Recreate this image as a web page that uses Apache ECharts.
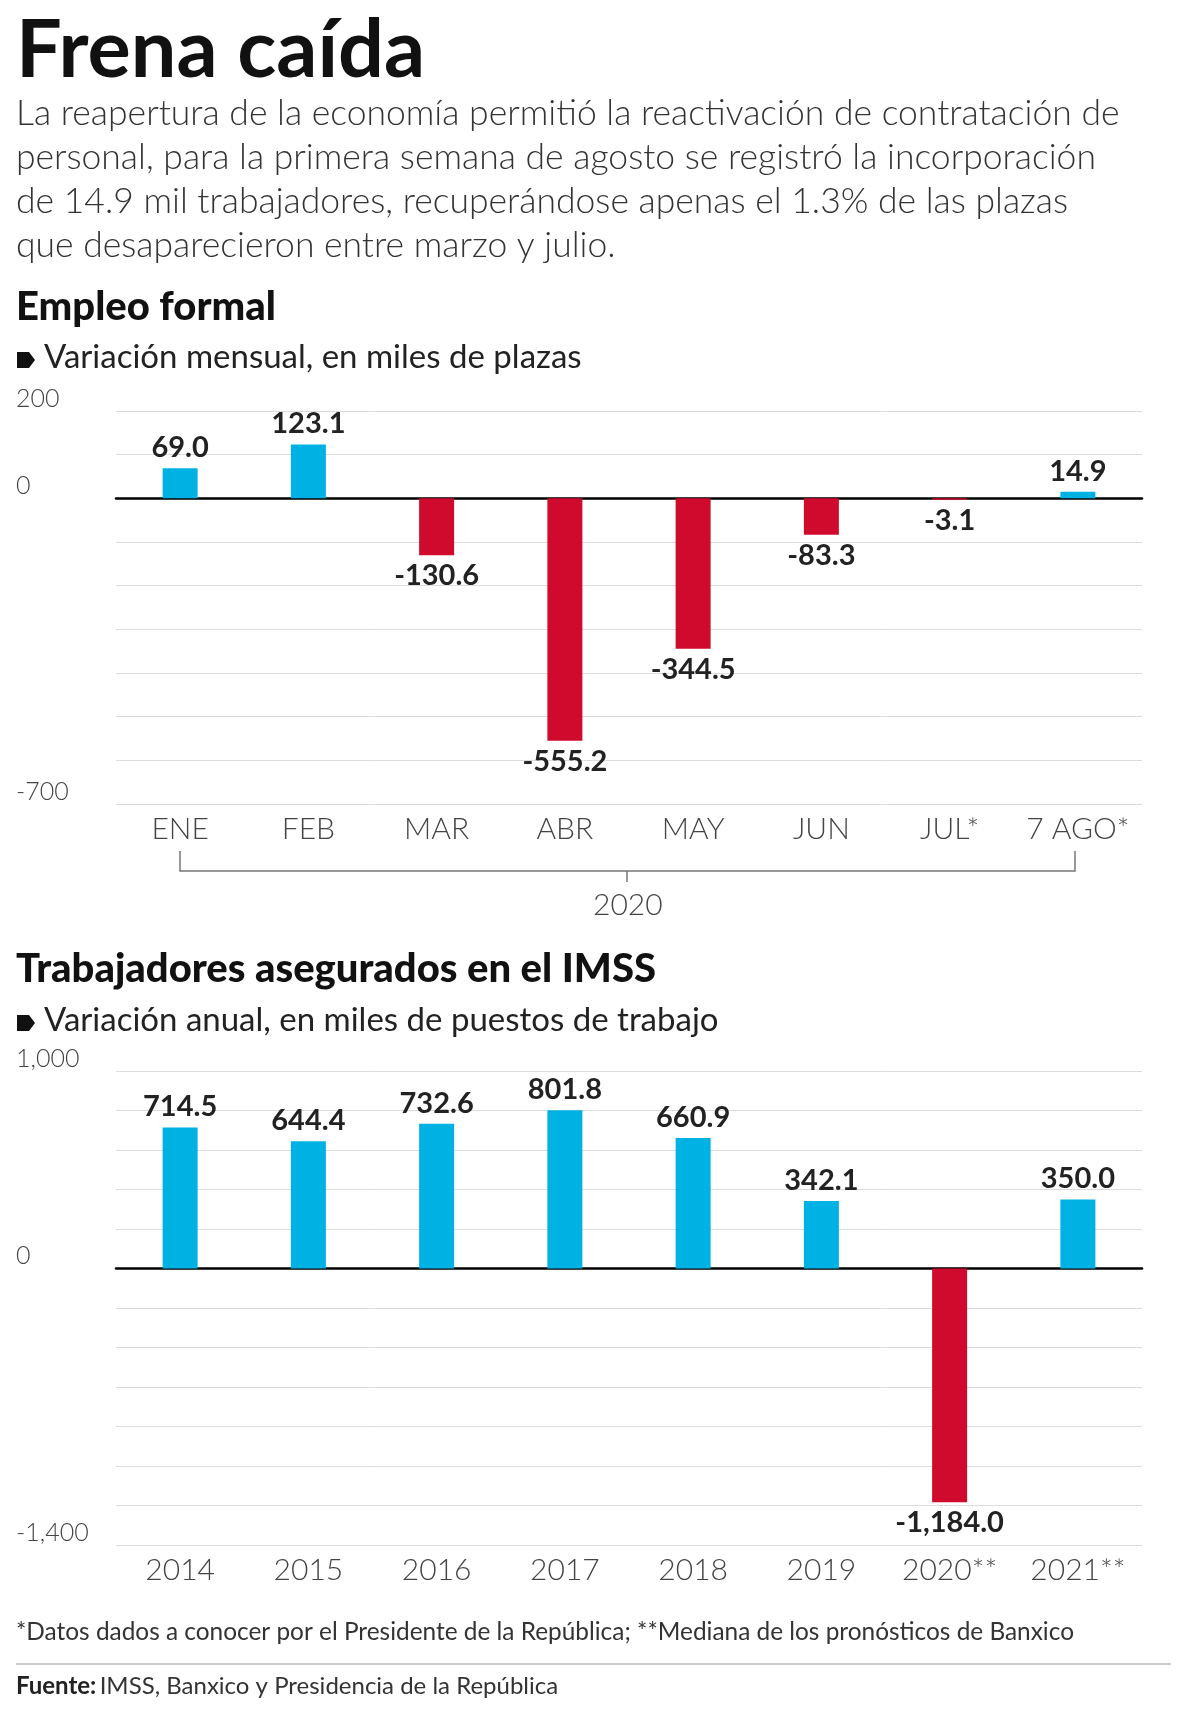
<!DOCTYPE html>
<html><head><meta charset="utf-8">
<script src="https://cdn.jsdelivr.net/npm/echarts@6/dist/echarts.min.js"></script>
<style>html,body{margin:0;padding:0;background:#fff}#c{width:1200px;height:1713px}</style>
</head><body><div id="c"></div>
<script>
const months = ['ENE','FEB','MAR','ABR','MAY','JUN','JUL*','7 AGO*'];
const monthVals = [69.0,123.1,-130.6,-555.2,-344.5,-83.3,-3.1,14.9];
const years = ['2014','2015','2016','2017','2018','2019','2020**','2021**'];
const yearVals = [714.5,644.4,732.6,801.8,660.9,342.1,-1184.0,350.0];
const ticks1 = [200,0,-700];
const ticks2 = [1000,0,-1400];
const BLUE='#00b2e3', RED='#cf0a2c', F='Lato';
const fmt = v => { const s=Math.abs(v).toFixed(1).replace(/\B(?=(\d{3})+(?!\d))/g,','); return (v<0?'-':'')+s; };
function data(vals){return vals.map(v=>({value:v,itemStyle:{color:v<0?RED:BLUE},label:{position:v<0?'bottom':'top'}}));}
function yAx(i,min,max,iv,ticks){return {gridIndex:i,type:'value',min,max,interval:iv,
  axisLine:{show:false},axisTick:{show:false},
  splitLine:{lineStyle:{color:'#dcdcdc',width:1}},
  axisLabel:{align:'left',verticalAlign:'bottom',margin:100,color:'#444',fontFamily:F,fontWeight:300,fontSize:25,
    formatter:v=>ticks.includes(v)?v.toLocaleString('en-US'):''}};}
function xAx(i,cats){return {gridIndex:i,type:'category',data:cats,
  axisLine:{onZero:true,lineStyle:{color:'#000',width:2.5}},axisTick:{show:false},
  axisLabel:{interval:0,color:'#444',fontFamily:F,fontWeight:300,fontSize:30,margin:10,verticalAlign:'top'}};}
const chart=echarts.init(document.getElementById('c'));
const tx=(x,y,t,s,w,c)=>({type:'text',left:x,top:y,style:{text:t,font:`${w||'normal'} ${s}px ${F}`,fill:c||'#222'}});
const lbl={show:true,fontFamily:F,fontWeight:'bold',fontSize:29,color:'#222',distance:6,formatter:p=>fmt(p.value)};
chart.setOption({
  animation:false,
  grid:[{left:116,right:58,top:411,height:393},{left:116,right:58,top:1071,height:474}],
  xAxis:[xAx(0,months),xAx(1,years)],
  yAxis:[yAx(0,-700,200,100,ticks1),yAx(1,-1400,1000,200,ticks2)],
  series:[
    {type:'bar',xAxisIndex:0,yAxisIndex:0,data:data(monthVals),barWidth:35,label:lbl},
    {type:'bar',xAxisIndex:1,yAxisIndex:1,data:data(yearVals),barWidth:35,label:lbl}
  ],
  graphic:[
    tx(16,10,'Frena caída',81,'bold','#111'),
    tx(16,96,'La reapertura de la economía permitió la reactivación de contratación de',35.5,'300','#333'),
    tx(16,140,'personal, para la primera semana de agosto se registró la incorporación',35.5,'300','#333'),
    tx(16,184,'de 14.9 mil trabajadores, recuperándose apenas el 1.3% de las plazas',35.5,'300','#333'),
    tx(16,228,'que desaparecieron entre marzo y julio.',35.5,'300','#333'),
    tx(16,287,'Empleo formal',40,'900','#111'),
    {type:'polygon',shape:{points:[[17,352],[29,352],[35,360],[29,368],[17,368]]},style:{fill:'#111'}},
    tx(44,341,'Variación mensual, en miles de plazas',33,'normal','#222'),
    {type:'polyline',shape:{points:[[180,851],[180,871],[1075,871],[1075,851]]},style:{stroke:'#777',lineWidth:1.5,fill:null}},
    {type:'line',shape:{x1:627,y1:871,x2:627,y2:882},style:{stroke:'#777',lineWidth:1.5}},
    tx(593,890,'2020',30,'300','#444'),
    tx(16,949,'Trabajadores asegurados en el IMSS',40,'900','#111'),
    {type:'polygon',shape:{points:[[17,1015],[29,1015],[35,1023],[29,1031],[17,1031]]},style:{fill:'#111'}},
    tx(44,1004,'Variación anual, en miles de puestos de trabajo',33,'normal','#222'),
    tx(16,1620,'*Datos dados a conocer por el Presidente de la República; **Mediana de los pronósticos de Banxico',24.4,'normal','#333'),
    {type:'line',shape:{x1:16,y1:1664,x2:1171,y2:1664},style:{stroke:'#999',lineWidth:1}},
    {type:'text',left:16,top:1674,style:{rich:{b:{font:`bold 24px ${F}`,fill:'#222'},n:{font:`24px ${F}`,fill:'#333'}},text:'{b|Fuente:} {n|IMSS, Banxico y Presidencia de la República}'}}
  ]
});
</script></body></html>
